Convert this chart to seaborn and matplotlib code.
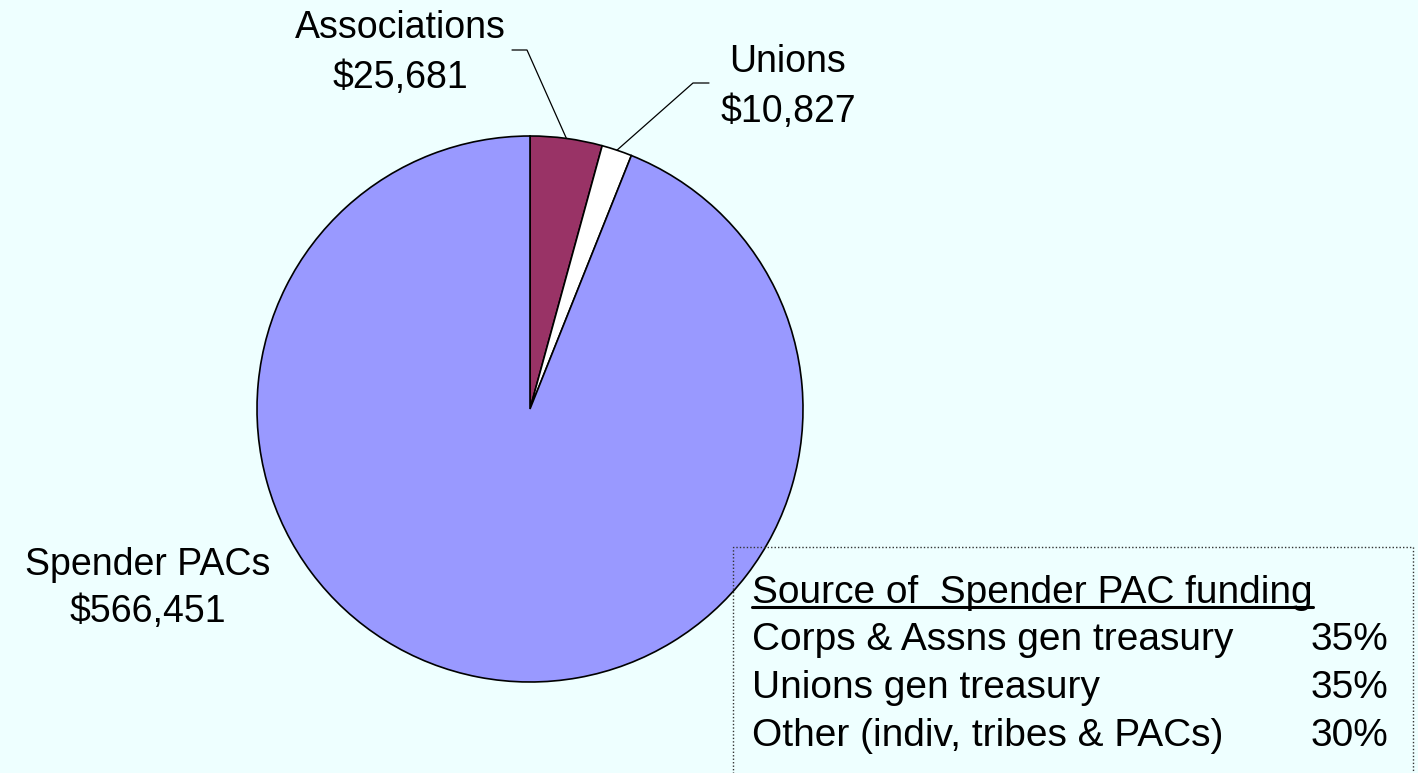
import numpy as np
import matplotlib
matplotlib.use("Agg")
import matplotlib.pyplot as plt
import seaborn as sns
from matplotlib.patches import Rectangle

# slice data, clockwise from 12 o'clock
groups = ["Associations", "Unions", "Spender PACs"]
amounts = [25681, 10827, 566451]
colors = ["#993366", "#FFFFFF", "#9999FF"]

# text box data
box_title = "Source of  Spender PAC funding"
sources = ["Corps & Assns gen treasury", "Unions gen treasury", "Other (indiv, tribes & PACs)"]
shares = ["35%", "35%", "30%"]

sns.set_theme(style="white")
plt.rcParams['font.family'] = ['Liberation Sans', 'DejaVu Sans']
plt.rcParams['text.color'] = 'black'
bg = "#EEFFFF"

W, H = 1418, 773
fig = plt.figure(figsize=(W / 100, H / 100), dpi=100, facecolor=bg)
cx, cy, r = 530, 409, 273
ax = fig.add_axes([(cx - r) / W, (H - cy - r) / H, 2 * r / W, 2 * r / H])
ax.set_facecolor(bg)

wedges, _ = ax.pie(amounts, colors=colors, startangle=90, counterclock=False,
                   wedgeprops=dict(edgecolor="black", linewidth=1.2))
ax.set_xlim(-1, 1)
ax.set_ylim(-1, 1)
ax.set_aspect("equal")
ax.axis("off")


def px(x, y):
    # figure pixel (from top) -> pie data coords
    return (x - cx) / r, (cy - y) / r


def ftext(x, y, s, **kw):
    return fig.text(x / W, 1 - y / H, s, color="black", **kw)


label_font = dict(fontsize=27, va="baseline", ha="center")

# labels + leader lines
label_pos = {"Associations": (400, 38, 88), "Unions": (788, 72, 122), "Spender PACs": (148, 575, 622)}
leader_end = {"Associations": [(527, 50), (512, 50)], "Unions": [(693, 83), (709, 83)]}
for w, name, amt in zip(wedges, groups, amounts):
    x, y1, y2 = label_pos[name]
    ftext(x, y1, name, **label_font)
    ftext(x, y2, f"${amt:,}", **label_font)
    if name in leader_end:
        mid = np.deg2rad((w.theta1 + w.theta2) / 2)
        xs = [np.cos(mid)] + [px(*p)[0] for p in leader_end[name]]
        ys = [np.sin(mid)] + [px(*p)[1] for p in leader_end[name]]
        ax.plot(xs, ys, color="black", lw=0.9, clip_on=False)

# dotted text box
box = Rectangle((733 / W, -0.05), (1413 - 733) / W, 1 - 547 / H + 0.05,
                transform=fig.transFigure, fill=False, edgecolor="#333333",
                linestyle=(0, (1, 1.5)), linewidth=1.0)
fig.add_artist(box)

bfont = dict(fontsize=28, va="baseline")
title = ftext(752, 603, box_title, ha="left", **bfont)
fig.canvas.draw()
bb = title.get_window_extent()
fig.add_artist(plt.Line2D([bb.x0 / W, bb.x1 / W], [1 - 607 / H, 1 - 607 / H],
                          transform=fig.transFigure, color="black", lw=2.2))
for i, (s, p) in enumerate(zip(sources, shares)):
    yb = 650 + 48 * i
    ftext(752, yb, s, ha="left", **bfont)
    ftext(1388, yb, p, ha="right", **bfont)

fig.savefig("out.png", dpi=100, facecolor=bg)
